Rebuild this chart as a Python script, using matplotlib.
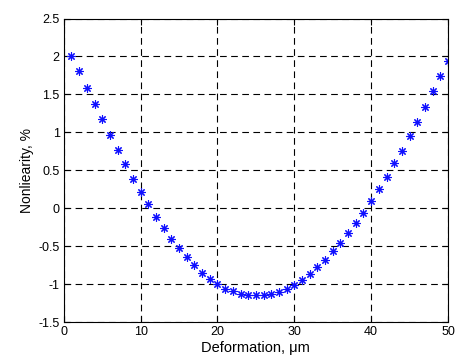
import matplotlib
matplotlib.use('Agg')
import matplotlib.pyplot as plt

plt.rcParams['font.family'] = ['Liberation Sans', 'DejaVu Sans']

# data
deformation = list(range(1, 51))
nonlinearity = [
    2.01, 1.81, 1.58, 1.37, 1.17, 0.97, 0.77, 0.58, 0.39, 0.21,
    0.06, -0.11, -0.26, -0.40, -0.53, -0.64, -0.75, -0.85, -0.93, -1.00,
    -1.06, -1.09, -1.13, -1.15, -1.15, -1.15, -1.13, -1.105, -1.06, -1.01,
    -0.94, -0.87, -0.78, -0.68, -0.57, -0.46, -0.33, -0.20, -0.06, 0.09,
    0.25, 0.41, 0.59, 0.76, 0.95, 1.14, 1.33, 1.54, 1.74, 1.94,
]
xticks = [0, 10, 20, 30, 40, 50]
yticks = [-1.5, -1, -0.5, 0, 0.5, 1, 1.5, 2, 2.5]
yticklabels = ['-1.5', '-1', '-0.5', '0', '0.5', '1', '1.5', '2', '2.5']

fig = plt.figure(figsize=(4.59, 3.56), dpi=100)
ax = fig.add_axes([0.139, 0.0955, 0.837, 0.8525])

ax.plot(deformation, nonlinearity, linestyle='none', marker=(8, 2, 0),
        markersize=6, markeredgewidth=0.8, color='#1010ff')

ax.set_xlim(0, 50)
ax.set_ylim(-1.5, 2.5)
ax.set_xticks(xticks)
ax.set_yticks(yticks)
ax.set_yticklabels(yticklabels)
ax.tick_params(direction='in', top=True, right=True, labelsize=9, length=4, pad=3)
ax.grid(True, color='black', linestyle=(0, (6, 4)), linewidth=0.8)
for s in ax.spines.values():
    s.set_linewidth(0.8)

ax.set_xlabel('Deformation, μm', fontsize=10.5, labelpad=2)
ax.set_ylabel('Nonliearity, %', fontsize=10, labelpad=3)

fig.savefig('out.png', dpi=100)
